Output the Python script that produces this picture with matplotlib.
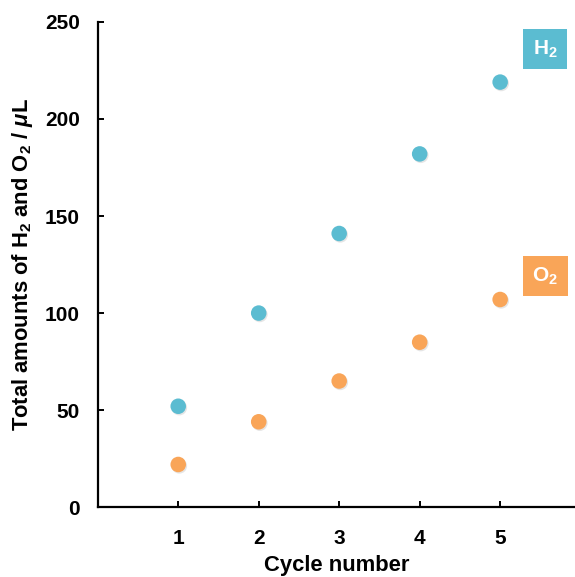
import matplotlib
matplotlib.use("Agg")
import matplotlib.pyplot as plt
import matplotlib.patheffects as pe

# ------------------ dados ------------------
cycles = [1, 2, 3, 4, 5]
h2_total = [52, 100, 141, 182, 219]
o2_total = [22, 44, 65, 85, 107]

h2_color = '#5bbcd1'
o2_color = '#f9a558'

plt.rcParams['font.family'] = 'Liberation Sans'
plt.rcParams['font.weight'] = 'bold'
plt.rcParams['mathtext.fontset'] = 'custom'
plt.rcParams['mathtext.rm'] = 'Liberation Sans:bold'
plt.rcParams['mathtext.it'] = 'Liberation Sans:bold:italic'
plt.rcParams['mathtext.bf'] = 'Liberation Sans:bold'

fig = plt.figure(figsize=(5.75, 5.77), dpi=100)
ax = fig.add_axes([0.170, 0.121, 0.830, 0.841])

shadow = [pe.SimplePatchShadow(offset=(0.8, -1.0), shadow_rgbFace='#999999', alpha=0.25), pe.Normal()]
ax.scatter(cycles, h2_total, s=125, color=h2_color, edgecolors='none', path_effects=shadow, zorder=3)
ax.scatter(cycles, o2_total, s=125, color=o2_color, edgecolors='none', path_effects=shadow, zorder=3)

ax.set_xlim(0, 5.93)
ax.set_ylim(0, 250)
ax.set_xticks(cycles)
ax.set_yticks([0, 50, 100, 150, 200, 250])

ax.spines['top'].set_visible(False)
ax.spines['right'].set_visible(False)
ax.spines['left'].set_linewidth(1.6)
ax.spines['bottom'].set_linewidth(1.6)
ax.tick_params(axis='both', direction='in', length=4, width=1.4, labelsize=15)
ax.tick_params(axis='x', pad=16)
ax.tick_params(axis='y', pad=13)

ax.set_xlabel('Cycle number', fontsize=15.8, fontweight='bold', labelpad=5)
ax.set_ylabel('Total amounts of H$_\\mathrm{2}$ and O$_\\mathrm{2}$ / $\\mathit{\\mu}$L',
              fontsize=15.8, fontweight='bold', labelpad=7)

# etiquetas das series
ax.text(5.56, 236, 'H$_\\mathrm{2}$', color='white', fontsize=15, ha='center', va='center',
        bbox=dict(boxstyle='square,pad=0.45', fc=h2_color, ec='none'))
ax.text(5.56, 119, 'O$_\\mathrm{2}$', color='white', fontsize=15, ha='center', va='center',
        bbox=dict(boxstyle='square,pad=0.45', fc=o2_color, ec='none'))

fig.savefig('out.png', dpi=100)
